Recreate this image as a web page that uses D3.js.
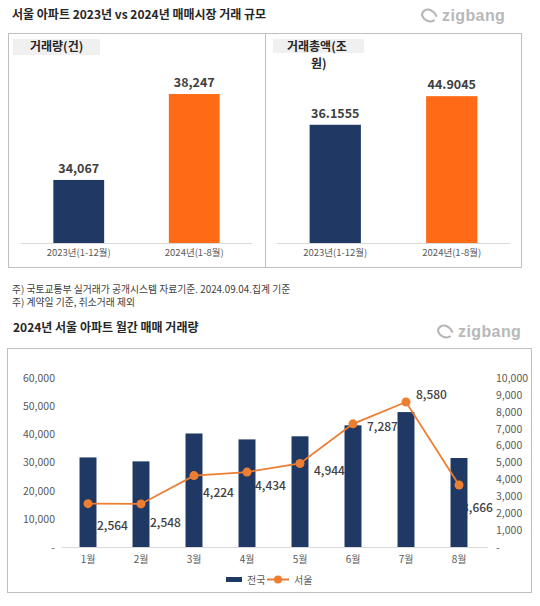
<!DOCTYPE html>
<html><head><meta charset="utf-8">
<script src="https://cdn.jsdelivr.net/npm/d3@7"></script>
<style>
html,body{margin:0;padding:0;background:#fff;}
svg{display:block;font-family:"Noto Sans CJK KR","Noto Sans",sans-serif;}
</style></head>
<body>
<svg id="c" width="540" height="606"></svg>
<script>
// ---- data ----
const topCategories = ["2023년(1-12월)", "2024년(1-8월)"];
const volumeValues = [34067, 38247];
const volumeLabels = ["34,067", "38,247"];
const amountValues = [36.1555, 44.9045];
const amountLabels = ["36.1555", "44.9045"];
const months = ["1월","2월","3월","4월","5월","6월","7월","8월"];
const nationalValues = [31800, 30400, 40300, 38200, 39300, 43200, 47900, 31600];
const seoulValues = [2564, 2548, 4224, 4434, 4944, 7287, 8580, 3666];
const leftTicks = [0, 10000, 20000, 30000, 40000, 50000, 60000];
const rightTicks = [0,1000,2000,3000,4000,5000,6000,7000,8000,9000,10000];
const notes = ["주) 국토교통부 실거래가 공개시스템 자료기준. 2024.09.04.집계 기준", "주) 계약일 기준, 취소거래 제외"];
// label placement (layout only)
const seoulLabelDx = [9, 9, 9, 8, 14, 14, 10, 3];
const seoulLabelDy = [22, 19, 17, 14, 7, 3, -7, 23];

const NAVY = "#203864", ORANGE = "#FF6A16", LINE = "#ED7D31";
const svg = d3.select("#c");
const fmt = v => v === 0 ? "-" : d3.format(",")(v);

// ---- logo ----
function logo(x, y) {
  const g = svg.append("g").attr("transform", `translate(${x},${y})`);
  g.append("path")
    .attr("d", "M-5,-5 Q-1,-8 5,-4 L7,-2 M6,3 Q2,7 -4,4 L-7,1 Q-8,-2 -5,-5")
    .attr("fill", "none").attr("stroke", "#b5b5b5").attr("stroke-width", 2).attr("stroke-linecap", "round")
    .attr("transform", "rotate(15)");
  g.append("text").attr("x", 13).attr("y", 5).text("zigbang")
    .attr("font-family", "'Liberation Sans',Arial,sans-serif").attr("font-weight", 700)
    .attr("font-size", 16).attr("fill", "#b8b8b8").attr("letter-spacing", 0.4);
}

// ---- titles ----
svg.append("text").attr("x", 12).attr("y", 19).text("서울 아파트 2023년 vs 2024년 매매시장 거래 규모")
  .attr("font-size", 12).attr("font-weight", 700).attr("fill", "#262626");
logo(429, 16);

// top box
svg.append("rect").attr("x", 8.5).attr("y", 33.5).attr("width", 513).attr("height", 234)
  .attr("fill", "none").attr("stroke", "#bfbfbf");
svg.append("line").attr("x1", 265.5).attr("x2", 265.5).attr("y1", 33.5).attr("y2", 267.5).attr("stroke", "#bfbfbf");

function topPanel(opts) {
  const x = d3.scaleBand().domain(topCategories).range(opts.xr).paddingInner(0.56).paddingOuter(0.28);
  const y = d3.scaleLinear().domain(opts.domain).range([243, opts.top]);
  const g = svg.append("g");
  // label box
  g.append("rect").attr("x", opts.boxX).attr("y", 39).attr("width", opts.boxW).attr("height", opts.boxH).attr("fill", "#f0f0f0");
  opts.title.forEach((t, i) => {
    g.append("text").attr("x", opts.titleX[i]).attr("y", 51 + i * 16.5).text(t)
      .attr("font-size", 12).attr("font-weight", 700).attr("fill", "#262626");
  });
  g.append("line").attr("x1", opts.xr[0]).attr("x2", opts.xr[1]).attr("y1", 243.5).attr("y2", 243.5).attr("stroke", "#d9d9d9");
  g.selectAll("rect.bar").data(opts.values).join("rect").attr("class", "bar")
    .attr("x", (d, i) => x(topCategories[i])).attr("width", x.bandwidth())
    .attr("y", d => y(d)).attr("height", d => 243 - y(d))
    .attr("fill", (d, i) => i === 0 ? NAVY : ORANGE);
  g.selectAll("text.val").data(opts.values).join("text").attr("class", "val")
    .attr("x", (d, i) => x(topCategories[i]) + x.bandwidth() / 2).attr("y", d => y(d) - 7)
    .attr("text-anchor", "middle").text((d, i) => opts.labels[i])
    .attr("font-size", 12.5).attr("font-weight", 700).attr("fill", "#404040");
  g.selectAll("text.cat").data(topCategories).join("text").attr("class", "cat")
    .attr("x", d => x(d) + x.bandwidth() / 2).attr("y", 256)
    .attr("text-anchor", "middle").text(d => d)
    .attr("font-size", 9.5).attr("fill", "#595959");
}
topPanel({ xr: [21, 252], domain: [31000, 40000], top: 58, values: volumeValues, labels: volumeLabels,
  boxX: 13, boxW: 87, boxH: 16, title: ["거래량(건)"], titleX: [30] });
topPanel({ xr: [277, 510], domain: [0, 50], top: 79.5, values: amountValues, labels: amountLabels,
  boxX: 273, boxW: 91, boxH: 14, title: ["거래총액(조", "원)"], titleX: [287, 311] });

// notes
notes.forEach((t, i) => {
  svg.append("text").attr("x", 12).attr("y", 292.5 + i * 13).text(t)
    .attr("font-size", 9.8).attr("fill", "#404040");
});

// second title
svg.append("text").attr("x", 13).attr("y", 332).text("2024년 서울 아파트 월간 매매 거래량")
  .attr("font-size", 12).attr("font-weight", 700).attr("fill", "#262626");
logo(445, 332);

// bottom box
svg.append("rect").attr("x", 7.5).attr("y", 348.5).attr("width", 524).attr("height", 244)
  .attr("fill", "none").attr("stroke", "#bfbfbf");

const bx = d3.scaleBand().domain(months).range([61.5, 485.5]).paddingInner(0.68).paddingOuter(0.34);
const yL = d3.scaleLinear().domain([0, 60000]).range([547, 378]);
const yR = d3.scaleLinear().domain([0, 10000]).range([547, 378]);
const cx = m => bx(m) + bx.bandwidth() / 2;

// axes
const axL = svg.append("g").attr("transform", "translate(55,0)")
  .call(d3.axisLeft(yL).tickValues(leftTicks).tickFormat(fmt).tickSize(0).tickPadding(0));
const axR = svg.append("g").attr("transform", "translate(496,0)")
  .call(d3.axisRight(yR).tickValues(rightTicks).tickFormat(fmt).tickSize(0).tickPadding(0));
[axL, axR].forEach(a => {
  a.select(".domain").remove();
  a.selectAll("text").attr("font-size", 10.5).attr("fill", "#595959")
    .attr("font-family", "'Noto Sans CJK KR',sans-serif");
});
const axX = svg.append("g").attr("transform", "translate(0,547)")
  .call(d3.axisBottom(bx).tickSize(0).tickPadding(9));
axX.select(".domain").attr("stroke", "#d9d9d9").attr("d", "M61.5,0.5H488");
axX.selectAll("text").attr("font-size", 10).attr("fill", "#595959")
  .attr("font-family", "'Noto Sans CJK KR',sans-serif");

// seoul labels (drawn beneath bars)
svg.selectAll("text.sl").data(seoulValues).join("text").attr("class", "sl")
  .attr("x", (d, i) => cx(months[i]) + seoulLabelDx[i])
  .attr("y", (d, i) => yR(d) + seoulLabelDy[i]).attr("dy", "0.35em")
  .text(d => d3.format(",")(d))
  .attr("font-size", 12).attr("font-weight", 500).attr("fill", "#404040");

// bars
svg.selectAll("rect.nb").data(nationalValues).join("rect").attr("class", "nb")
  .attr("x", (d, i) => bx(months[i])).attr("width", bx.bandwidth())
  .attr("y", d => yL(d)).attr("height", d => 547 - yL(d)).attr("fill", NAVY);

// line
const line = d3.line().x((d, i) => cx(months[i])).y(d => yR(d));
svg.append("path").datum(seoulValues).attr("d", line)
  .attr("fill", "none").attr("stroke", LINE).attr("stroke-width", 1.8);
svg.selectAll("circle.sp").data(seoulValues).join("circle").attr("class", "sp")
  .attr("cx", (d, i) => cx(months[i])).attr("cy", d => yR(d)).attr("r", 4.5).attr("fill", LINE);

// legend
const lg = svg.append("g");
lg.append("rect").attr("x", 226).attr("y", 577).attr("width", 16).attr("height", 5).attr("fill", NAVY);
lg.append("text").attr("x", 247).attr("y", 583.5).text("전국").attr("font-size", 10).attr("fill", "#595959");
lg.append("line").attr("x1", 267).attr("x2", 289).attr("y1", 579.5).attr("y2", 579.5).attr("stroke", LINE).attr("stroke-width", 2);
lg.append("circle").attr("cx", 278).attr("cy", 579.5).attr("r", 4).attr("fill", LINE);
lg.append("text").attr("x", 294).attr("y", 583.5).text("서울").attr("font-size", 10).attr("fill", "#595959");
</script>
</body></html>
